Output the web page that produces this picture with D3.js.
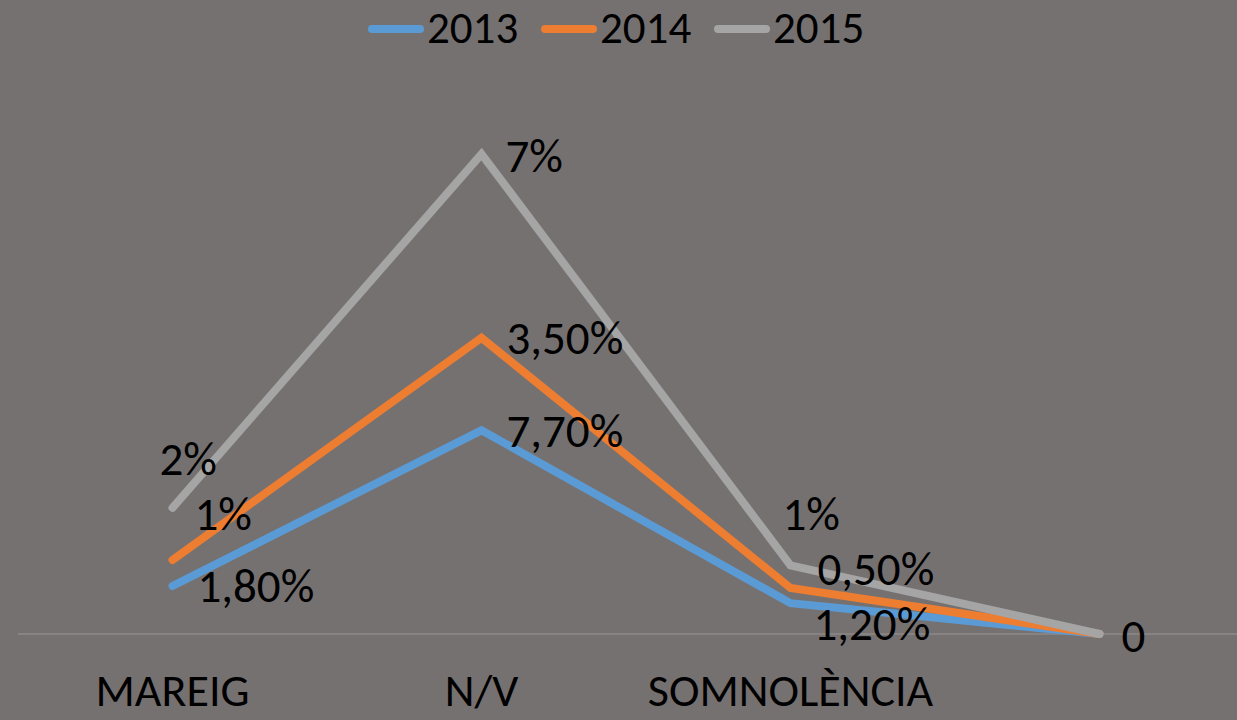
<!DOCTYPE html>
<html>
<head>
<meta charset="utf-8">
<script src="https://cdn.jsdelivr.net/npm/d3@7"></script>
<style>
  html, body { margin: 0; padding: 0; background: #767171; }
  svg { display: block; }
  text { font-family: Carlito, Lato, "Liberation Sans Narrow", sans-serif; fill: #000; }
</style>
</head>
<body>
<div id="chart"></div>
<script>
const categories = ["MAREIG", "N/V", "SOMNOLÈNCIA", ""];
const years = ["2013", "2014", "2015"];
const values2013 = [0.70, 2.97, 0.45, 0];
const values2014 = [1.08, 4.32, 0.67, 0];
const values2015 = [1.84, 7.00, 1.00, 0];
// data labels as shown on the chart (one per point, null = hidden)
const labels2013 = ["1,80%", "7,70%", "1,20%", null];
const labels2014 = ["1%", "3,50%", "0,50%", null];
const labels2015 = ["2%", "7%", "1%", "0"];

const width = 1237, height = 720;
const colors = { "2013": "#5B9BD5", "2014": "#ED7D31", "2015": "#A5A5A5" };

// label offsets from their point [dx, dy]
const labelOffsets = {
  "2013": [[25, 16], [25, 17], [23, 37], [0, 0]],
  "2014": [[22, -30], [25, 16], [27, -3], [0, 0]],
  "2015": [[-13, -33], [24, 18], [-8, -35], [22, 18]]
};

const series = [
  { year: "2013", values: values2013, labels: labels2013 },
  { year: "2014", values: values2014, labels: labels2014 },
  { year: "2015", values: values2015, labels: labels2015 }
];

const svg = d3.select("#chart").append("svg")
  .attr("width", width)
  .attr("height", height);

const x = d3.scaleBand()
  .domain(categories.map((c, i) => i))
  .range([18, 1254]);

const y = d3.scaleLinear()
  .domain([0, 7])
  .range([634, 154]);

const cx = i => x(i) + x.bandwidth() / 2;

// baseline
svg.append("line")
  .attr("x1", 18).attr("x2", width)
  .attr("y1", y(0)).attr("y2", y(0))
  .attr("stroke", "#8e8a8a")
  .attr("stroke-width", 1.5);

// category axis labels
svg.append("g")
  .selectAll("text")
  .data(categories)
  .enter()
  .append("text")
  .attr("x", (d, i) => cx(i))
  .attr("y", 706)
  .attr("text-anchor", "middle")
  .style("font-size", "46px")
  .text(d => d);

const line = d3.line()
  .x((d, i) => cx(i))
  .y(d => y(d));

series.forEach(s => {
  svg.append("path")
    .datum(s.values)
    .attr("d", line)
    .attr("fill", "none")
    .attr("stroke", colors[s.year])
    .attr("stroke-width", 8)
    .attr("stroke-linecap", "round")
    .attr("stroke-linejoin", "miter");
});

series.forEach(s => {
  svg.append("g")
    .selectAll("text")
    .data(s.values.map((v, i) => ({ v, i, label: s.labels[i] })).filter(d => d.label !== null))
    .enter()
    .append("text")
    .attr("x", d => cx(d.i) + labelOffsets[s.year][d.i][0])
    .attr("y", d => y(d.v) + labelOffsets[s.year][d.i][1])
    .style("font-size", "47px")
    .text(d => d.label);
});

// legend
const legendX = [368, 541, 714];
const legend = svg.append("g");
years.forEach((yr, i) => {
  legend.append("line")
    .attr("x1", legendX[i] + 4).attr("x2", legendX[i] + 52)
    .attr("y1", 29).attr("y2", 29)
    .attr("stroke", colors[yr])
    .attr("stroke-width", 8)
    .attr("stroke-linecap", "round");
  legend.append("text")
    .attr("x", legendX[i] + 59)
    .attr("y", 43)
    .style("font-size", "45px")
    .text(yr);
});
</script>
</body>
</html>
